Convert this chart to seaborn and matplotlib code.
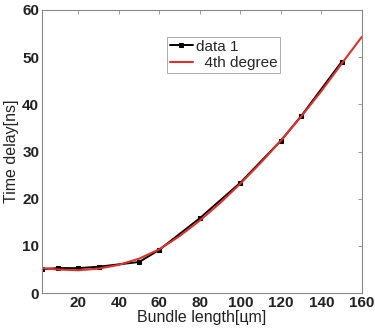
import numpy as np
import pandas as pd
import matplotlib
matplotlib.use('Agg')
import matplotlib.pyplot as plt
import seaborn as sns

# measured points
bundle_len = [2, 10, 20, 30, 50, 60, 80, 100, 120, 130, 150]
time_delay = [5.1, 5.3, 5.3, 5.6, 6.6, 9.2, 15.9, 23.4, 32.3, 37.5, 49.0]

# 4th degree fit curve
fit_x = [2, 10, 20, 30, 40, 50, 60, 70, 80, 90, 100, 110, 120, 130, 140, 150, 160]
fit_y = [5.3, 5.0, 4.85, 5.2, 6.0, 7.3, 9.3, 12.1, 15.4, 19.1, 23.2, 27.6, 32.3, 37.4, 42.8, 48.6, 54.3]

xticks = [20, 40, 60, 80, 100, 120, 140, 160]
yticks = [0, 10, 20, 30, 40, 50, 60]

sns.set_style('white')
plt.rcParams['font.family'] = ['Liberation Sans', 'DejaVu Sans']

df = pd.DataFrame({'x': bundle_len, 'y': time_delay})
fit = pd.DataFrame({'x': fit_x, 'y': fit_y})

fig = plt.figure(figsize=(3.75, 3.29), dpi=100)
ax = fig.add_axes([0.112, 0.109, 0.853, 0.861])

sns.lineplot(data=df, x='x', y='y', ax=ax, color='black', lw=1.4,
             marker='s', markersize=3, markeredgecolor='black', label='data 1')
sns.lineplot(data=fit, x='x', y='y', ax=ax, color='#e0302a', lw=1.5,
             label='  4th degree')

ax.set_xlim(2, 160)
ax.set_ylim(0, 60)
ax.set_xticks(xticks)
ax.set_yticks(yticks)
ax.tick_params(direction='in', top=True, right=True, length=3, width=0.6,
               color='#888888', labelsize=11, pad=2, labelcolor='#222222')
for lab in ax.get_xticklabels() + ax.get_yticklabels():
    lab.set_fontweight('bold')
for sp in ax.spines.values():
    sp.set_color('#888888')
    sp.set_linewidth(0.8)

ax.set_xlabel('Bundle length[цm]', fontsize=11.5, labelpad=0, color='#222222')
ax.set_ylabel('Time delay[ns]', fontsize=11.5, labelpad=2, color='#222222')

leg = ax.legend(loc='upper left', bbox_to_anchor=(0.39, 0.905), fontsize=11,
                frameon=True, fancybox=False, borderpad=0.2, labelspacing=0.15,
                handlelength=1.5, handletextpad=0.2, borderaxespad=0)
leg.get_frame().set_edgecolor('#888888')
leg.get_frame().set_linewidth(0.6)

fig.savefig('out.png', dpi=100)
